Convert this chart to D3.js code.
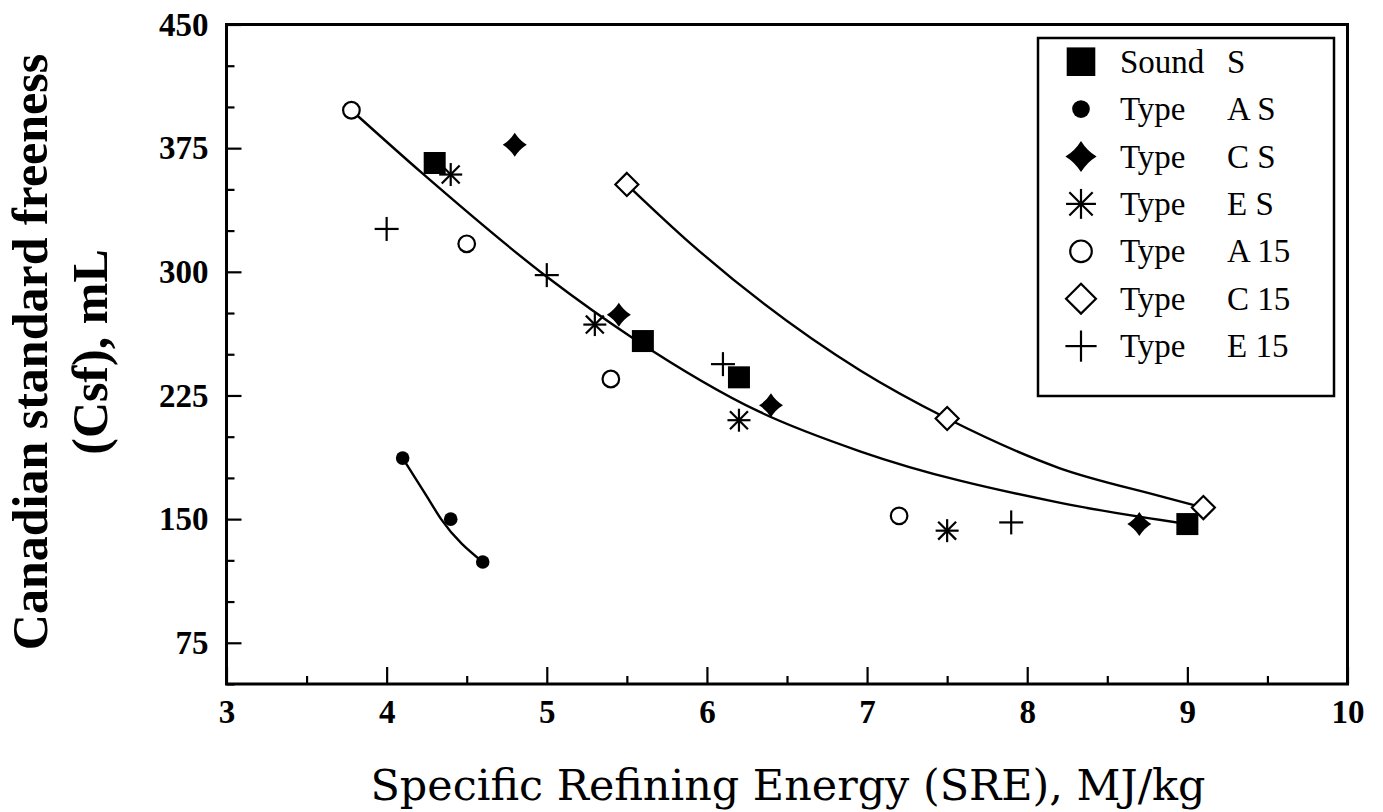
<!DOCTYPE html>
<html>
<head>
<meta charset="utf-8">
<script src="https://cdn.jsdelivr.net/npm/d3@7"></script>
<style>
  body { margin: 0; background: #fff; }
  svg { display: block; }
</style>
</head>
<body>
<svg width="1383" height="812"></svg>
<script>
'use strict';

// SRE (MJ/kg) and CSF (mL), one pair of arrays per sample
var soundS_sre = [4.3, 5.6, 6.2, 9.0];
var soundS_csf = [366, 258, 236, 147];
var typeAS_sre = [4.1, 4.4, 4.6];
var typeAS_csf = [187, 150, 124];
var typeCS_sre = [4.8, 5.45, 6.4, 8.7];
var typeCS_csf = [377, 274, 219, 147];
var typeES_sre = [4.4, 5.3, 6.2, 7.5];
var typeES_csf = [359, 268, 210, 143];
var typeA15_sre = [3.78, 4.5, 5.4, 7.2];
var typeA15_csf = [398, 317, 235, 152];
var typeC15_sre = [5.5, 7.5, 9.1];
var typeC15_csf = [353, 211, 157];
var typeE15_sre = [4.0, 5.0, 6.1, 7.9];
var typeE15_csf = [326, 298, 244, 148];

// trend curves
var fitMain_sre = [3.78, 4.22, 5.0, 5.55, 6.33, 6.96, 8.2, 9.0];
var fitMain_csf = [398, 360, 297, 259, 215, 191, 160, 147];
var fitC15_sre = [5.5, 5.9, 6.96, 7.5, 8.2, 8.83, 9.1];
var fitC15_csf = [353, 317, 240, 211, 181, 164, 157];
var fitAS_sre = [4.1, 4.25, 4.34, 4.6];
var fitAS_csf = [187, 164, 150, 124];

var xTickVals = [3, 4, 5, 6, 7, 8, 9, 10];
var xMinorVals = [3.5, 4.5, 5.5, 6.5, 7.5, 8.5, 9.5];
var yTickVals = [75, 150, 225, 300, 375, 450];
var yMinorVals = [50, 100, 125, 175, 200, 250, 275, 325, 350, 400, 425];

var legendNames = ['Sound', 'Type', 'Type', 'Type', 'Type', 'Type', 'Type'];
var legendCodes = ['S', 'A S', 'C S', 'E S', 'A 15', 'C 15', 'E 15'];
var legendShapes = ['square', 'dot', 'diamond', 'asterisk', 'circle', 'odiamond', 'plus'];

var svg = d3.select('svg');

var x = d3.scaleLinear().domain([3, 10]).range([226.5, 1347.5]);
var y = d3.scaleLinear().domain([50, 450]).range([684, 24.5]);

var zip = function(xs, ys) {
  return xs.map(function(v, i) { return [v, ys[i]]; });
};

// markers are drawn around 0,0 then moved into place
var drawMarker = function(g, shape, s) {
  var sw = 2.2;
  if (shape === 'square') {
    g.append('rect').attr('x', -11 * s).attr('y', -11 * s)
      .attr('width', 22 * s).attr('height', 22 * s).attr('fill', '#000');
  } else if (shape === 'dot') {
    g.append('circle').attr('r', 6.8 * s).attr('fill', '#000');
  } else if (shape === 'diamond') {
    var r = 12 * s, k = 0.38 * r;
    g.append('path')
      .attr('d', 'M0,' + (-r) + 'Q' + k + ',' + (-k) + ' ' + r + ',0' +
                 'Q' + k + ',' + k + ' 0,' + r +
                 'Q' + (-k) + ',' + k + ' ' + (-r) + ',0' +
                 'Q' + (-k) + ',' + (-k) + ' 0,' + (-r) + 'Z')
      .attr('fill', '#000');
  } else if (shape === 'asterisk') {
    var a = 11.5 * s, d = a * 0.78;
    var lines = [[0, -a, 0, a], [-a, 0, a, 0], [-d, -d, d, d], [-d, d, d, -d]];
    lines.forEach(function(l) {
      g.append('line').attr('x1', l[0]).attr('y1', l[1]).attr('x2', l[2]).attr('y2', l[3])
        .attr('stroke', '#000').attr('stroke-width', sw);
    });
  } else if (shape === 'circle') {
    g.append('circle').attr('r', 8.3 * s).attr('fill', '#fff')
      .attr('stroke', '#000').attr('stroke-width', sw);
  } else if (shape === 'odiamond') {
    var q = 11.5 * s;
    g.append('path').attr('d', 'M0,' + (-q) + 'L' + q + ',0L0,' + q + 'L' + (-q) + ',0Z')
      .attr('fill', '#fff').attr('stroke', '#000').attr('stroke-width', sw);
  } else if (shape === 'plus') {
    var p = 12 * s;
    g.append('line').attr('x1', -p).attr('x2', p).attr('stroke', '#000').attr('stroke-width', sw);
    g.append('line').attr('y1', -p).attr('y2', p).attr('stroke', '#000').attr('stroke-width', sw);
  }
};

// ticks, pointing into the plot
var styleAxis = function(g) {
  g.select('.domain').remove();
  g.selectAll('.tick line').attr('stroke', '#000').attr('stroke-width', 2.2);
  g.attr('font-family', '"Liberation Serif", "Times New Roman", serif')
    .attr('font-size', 33).attr('font-weight', 'bold');
  g.selectAll('.tick text').attr('fill', '#000');
};

svg.append('g').attr('transform', 'translate(0,' + y(50) + ')')
  .call(d3.axisBottom(x).tickValues(xTickVals).tickSize(-17).tickPadding(15.5).tickFormat(d3.format('d')))
  .call(styleAxis);
svg.append('g').attr('transform', 'translate(0,' + y(50) + ')')
  .call(d3.axisBottom(x).tickValues(xMinorVals).tickSize(-8).tickFormat(''))
  .call(styleAxis);
svg.append('g').attr('transform', 'translate(' + x(3) + ',0)')
  .call(d3.axisLeft(y).tickValues(yTickVals).tickSize(-15).tickPadding(18))
  .call(styleAxis);
svg.append('g').attr('transform', 'translate(' + x(3) + ',0)')
  .call(d3.axisLeft(y).tickValues(yMinorVals).tickSize(-8).tickFormat(''))
  .call(styleAxis);

// fitted curves
var line = d3.line()
  .x(function(d) { return x(d[0]); })
  .y(function(d) { return y(d[1]); })
  .curve(d3.curveMonotoneX);

[zip(fitMain_sre, fitMain_csf), zip(fitC15_sre, fitC15_csf), zip(fitAS_sre, fitAS_csf)]
  .forEach(function(pts) {
    svg.append('path').datum(pts).attr('d', line)
      .attr('fill', 'none').attr('stroke', '#000').attr('stroke-width', 2.4);
  });

// data points
var series = [
  { shape: 'square', pts: zip(soundS_sre, soundS_csf) },
  { shape: 'dot', pts: zip(typeAS_sre, typeAS_csf) },
  { shape: 'diamond', pts: zip(typeCS_sre, typeCS_csf) },
  { shape: 'asterisk', pts: zip(typeES_sre, typeES_csf) },
  { shape: 'circle', pts: zip(typeA15_sre, typeA15_csf) },
  { shape: 'odiamond', pts: zip(typeC15_sre, typeC15_csf) },
  { shape: 'plus', pts: zip(typeE15_sre, typeE15_csf) }
];

series.forEach(function(s) {
  s.pts.forEach(function(p) {
    var g = svg.append('g').attr('transform', 'translate(' + x(p[0]) + ',' + y(p[1]) + ')');
    drawMarker(g, s.shape, 1);
  });
});

// plot frame
svg.append('rect')
  .attr('x', x(3)).attr('y', y(450))
  .attr('width', x(10) - x(3)).attr('height', y(50) - y(450))
  .attr('fill', 'none').attr('stroke', '#000').attr('stroke-width', 3);

// legend
var legend = svg.append('g');
legend.append('rect').attr('x', 1038).attr('y', 38).attr('width', 296).attr('height', 358)
  .attr('fill', '#fff').attr('stroke', '#000').attr('stroke-width', 2.5);

legendNames.forEach(function(name, i) {
  var base = 72.7 + i * 47.4;
  var g = legend.append('g').attr('transform', 'translate(1081,' + (base - 11) + ')');
  drawMarker(g, legendShapes[i], 1.3);
  legend.append('text').attr('x', 1120).attr('y', base)
    .attr('font-family', '"Liberation Serif", "Times New Roman", serif').attr('font-size', 33)
    .text(name);
  legend.append('text').attr('x', 1227).attr('y', base)
    .attr('font-family', '"Liberation Serif", "Times New Roman", serif').attr('font-size', 33)
    .text(legendCodes[i]);
});

// axis titles
svg.append('text')
  .attr('x', 788).attr('y', 800)
  .attr('text-anchor', 'middle')
  .attr('font-family', '"DejaVu Serif", serif').attr('font-size', 42)
  .attr('textLength', 835).attr('lengthAdjust', 'spacingAndGlyphs')
  .text('Specific Refining Energy (SRE), MJ/kg');

var yTitle = svg.append('g').attr('transform', 'translate(0,352) rotate(-90)')
  .attr('font-family', '"Liberation Serif", "Times New Roman", serif')
  .attr('font-weight', 'bold').attr('font-size', 50).attr('text-anchor', 'middle');
yTitle.append('text').attr('x', 0).attr('y', 47).text('Canadian standard freeness');
yTitle.append('text').attr('x', 0).attr('y', 107).text('(Csf), mL');
</script>
</body>
</html>
